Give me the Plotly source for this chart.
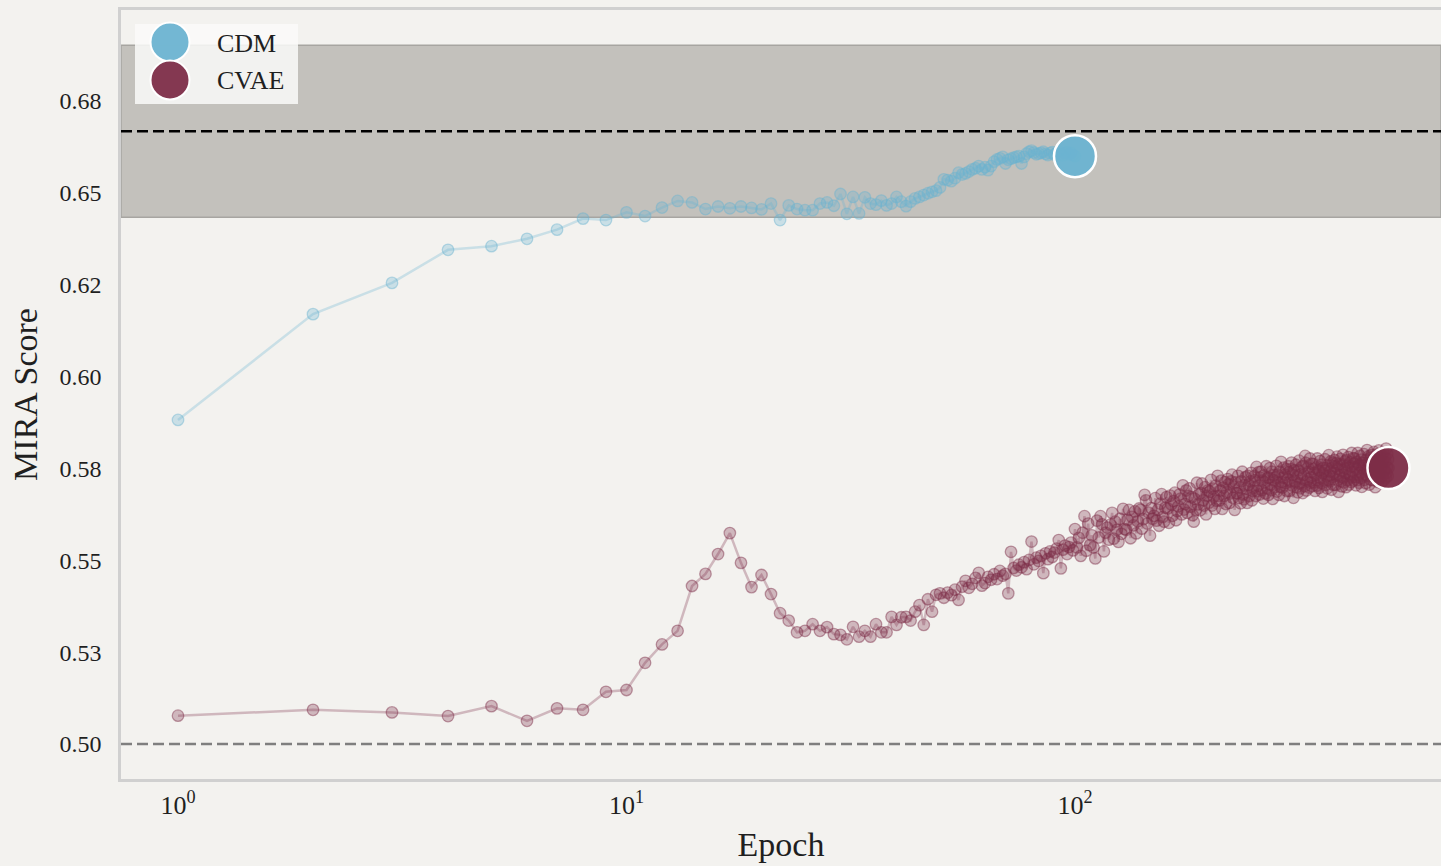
import plotly.graph_objects as go

# ---- data -------------------------------------------------------------
cdm_scores = [
    0.5882, 0.6170, 0.6255, 0.6345, 0.6355, 0.6375, 0.6400, 0.6430, 0.6426, 0.6447,
    0.6437, 0.6460, 0.6478, 0.6474, 0.6456, 0.6463, 0.6458, 0.6463, 0.6459, 0.6455,
    0.6471, 0.6426, 0.6466, 0.6456, 0.6453, 0.6453, 0.6471, 0.6474, 0.6465, 0.6497,
    0.6443, 0.6489, 0.6444, 0.6488, 0.6471, 0.6468, 0.6479, 0.6466, 0.6471, 0.6489,
    0.6476, 0.6464, 0.6476, 0.6485, 0.6489, 0.6494, 0.6499, 0.6503, 0.6506, 0.6515,
    0.6537, 0.6535, 0.6532, 0.6540, 0.6555, 0.6550, 0.6553, 0.6558, 0.6564, 0.6567,
    0.6573, 0.6564, 0.6570, 0.6562, 0.6573, 0.6585, 0.6591, 0.6594, 0.6598, 0.6580,
    0.6590, 0.6593, 0.6596, 0.6598, 0.6600, 0.6580, 0.6598, 0.6607, 0.6612, 0.6615,
    0.6610, 0.6605, 0.6607, 0.6609, 0.6612, 0.6606, 0.6603, 0.6608, 0.6611, 0.6604,
    0.6609, 0.6613, 0.6606, 0.6602, 0.6608, 0.6611, 0.6605, 0.6609, 0.6603, 0.6600,
]

cvae_scores = [
    # epochs 1-49
    0.5077, 0.5093, 0.5086, 0.5076, 0.5103, 0.5063, 0.5097, 0.5093, 0.5142, 0.5147,
    0.5221, 0.5271, 0.5308, 0.5430, 0.5463, 0.5517, 0.5574, 0.5493, 0.5427, 0.5460,
    0.5408, 0.5356, 0.5336, 0.5304, 0.5308, 0.5326, 0.5308, 0.5318, 0.5299, 0.5297,
    0.5285, 0.5319, 0.5292, 0.5308, 0.5292, 0.5326, 0.5304, 0.5304, 0.5346, 0.5324,
    0.5345, 0.5346, 0.5336, 0.5360, 0.5378, 0.5324, 0.5394, 0.5360, 0.5406,
    # epochs 50-99
    0.5410, 0.5398, 0.5412, 0.5405, 0.5420, 0.5392, 0.5428, 0.5444, 0.5425, 0.5436,
    0.5452, 0.5466, 0.5431, 0.5438, 0.5455, 0.5447, 0.5462, 0.5449, 0.5471, 0.5458,
    0.5463, 0.5410, 0.5523, 0.5479, 0.5472, 0.5488, 0.5481, 0.5495, 0.5476, 0.5501,
    0.5551, 0.5489, 0.5507, 0.5498, 0.5512, 0.5465, 0.5519, 0.5503, 0.5524, 0.5509,
    0.5521, 0.5532, 0.5555, 0.5478, 0.5529, 0.5540, 0.5517, 0.5536, 0.5548, 0.5527,
    # epochs 100-199
    0.5585, 0.5535, 0.5561, 0.5512, 0.5575, 0.5620, 0.5526, 0.5600, 0.5541, 0.5568,
    0.5535, 0.5505, 0.5608, 0.5562, 0.5620, 0.5598, 0.5524, 0.5575, 0.5589, 0.5556,
    0.5597, 0.5629, 0.5559, 0.5605, 0.5583, 0.5550, 0.5613, 0.5572, 0.5640, 0.5585,
    0.5583, 0.5610, 0.5637, 0.5560, 0.5618, 0.5595, 0.5633, 0.5573, 0.5606, 0.5641,
    0.5637, 0.5586, 0.5612, 0.5678, 0.5663, 0.5600, 0.5630, 0.5567, 0.5642, 0.5613,
    0.5621, 0.5669, 0.5608, 0.5637, 0.5594, 0.5654, 0.5680, 0.5618, 0.5605, 0.5643,
    0.5672, 0.5641, 0.5602, 0.5676, 0.5652, 0.5621, 0.5661, 0.5684, 0.5609, 0.5634,
    0.5647, 0.5679, 0.5668, 0.5625, 0.5704, 0.5638, 0.5653, 0.5690, 0.5629, 0.5675,
    0.5696, 0.5646, 0.5672, 0.5623, 0.5605, 0.5667, 0.5637, 0.5711, 0.5652, 0.5679,
    0.5636, 0.5683, 0.5709, 0.5663, 0.5649, 0.5699, 0.5625, 0.5676, 0.5690, 0.5657,
    # epochs 200-299
    0.5687, 0.5719, 0.5649, 0.5695, 0.5673, 0.5640, 0.5703, 0.5662, 0.5730, 0.5675,
    0.5663, 0.5690, 0.5717, 0.5640, 0.5698, 0.5675, 0.5713, 0.5653, 0.5686, 0.5721,
    0.5707, 0.5656, 0.5682, 0.5715, 0.5733, 0.5670, 0.5700, 0.5637, 0.5712, 0.5683,
    0.5682, 0.5730, 0.5669, 0.5698, 0.5655, 0.5715, 0.5741, 0.5679, 0.5666, 0.5704,
    0.5726, 0.5695, 0.5656, 0.5730, 0.5706, 0.5675, 0.5715, 0.5738, 0.5663, 0.5688,
    0.5697, 0.5729, 0.5718, 0.5675, 0.5754, 0.5688, 0.5703, 0.5740, 0.5679, 0.5725,
    0.5741, 0.5691, 0.5717, 0.5668, 0.5731, 0.5712, 0.5682, 0.5756, 0.5697, 0.5724,
    0.5678, 0.5725, 0.5751, 0.5705, 0.5691, 0.5741, 0.5667, 0.5718, 0.5732, 0.5699,
    0.5725, 0.5757, 0.5687, 0.5733, 0.5711, 0.5678, 0.5741, 0.5700, 0.5768, 0.5713,
    0.5698, 0.5725, 0.5752, 0.5675, 0.5733, 0.5710, 0.5748, 0.5688, 0.5721, 0.5756,
    # epochs 300-399
    0.5740, 0.5689, 0.5715, 0.5748, 0.5766, 0.5703, 0.5733, 0.5670, 0.5745, 0.5716,
    0.5712, 0.5760, 0.5699, 0.5728, 0.5685, 0.5745, 0.5771, 0.5709, 0.5696, 0.5734,
    0.5753, 0.5722, 0.5683, 0.5757, 0.5733, 0.5702, 0.5784, 0.5765, 0.5690, 0.5715,
    0.5720, 0.5752, 0.5741, 0.5698, 0.5777, 0.5711, 0.5726, 0.5763, 0.5702, 0.5748,
    0.5762, 0.5712, 0.5738, 0.5689, 0.5752, 0.5733, 0.5703, 0.5777, 0.5718, 0.5745,
    0.5697, 0.5744, 0.5770, 0.5724, 0.5710, 0.5760, 0.5686, 0.5737, 0.5751, 0.5718,
    0.5743, 0.5775, 0.5705, 0.5751, 0.5729, 0.5696, 0.5759, 0.5718, 0.5786, 0.5731,
    0.5715, 0.5742, 0.5769, 0.5692, 0.5750, 0.5727, 0.5765, 0.5705, 0.5738, 0.5773,
    0.5756, 0.5705, 0.5731, 0.5764, 0.5782, 0.5719, 0.5749, 0.5686, 0.5761, 0.5732,
    0.5728, 0.5776, 0.5715, 0.5744, 0.5701, 0.5761, 0.5787, 0.5725, 0.5712, 0.5750,
    # epochs 400-500
    0.5769, 0.5738, 0.5699, 0.5773, 0.5749, 0.5718, 0.5758, 0.5781, 0.5706, 0.5731,
    0.5735, 0.5767, 0.5756, 0.5713, 0.5792, 0.5726, 0.5741, 0.5778, 0.5717, 0.5763,
    0.5777, 0.5727, 0.5753, 0.5704, 0.5767, 0.5748, 0.5718, 0.5792, 0.5733, 0.5760,
    0.5711, 0.5758, 0.5784, 0.5738, 0.5724, 0.5774, 0.5700, 0.5751, 0.5765, 0.5732,
    0.5757, 0.5789, 0.5719, 0.5765, 0.5743, 0.5710, 0.5773, 0.5732, 0.5800, 0.5745,
    0.5729, 0.5756, 0.5783, 0.5706, 0.5764, 0.5741, 0.5779, 0.5719, 0.5752, 0.5787,
    0.5769, 0.5718, 0.5744, 0.5777, 0.5795, 0.5732, 0.5762, 0.5699, 0.5774, 0.5745,
    0.5740, 0.5788, 0.5727, 0.5756, 0.5713, 0.5773, 0.5799, 0.5737, 0.5724, 0.5762,
    0.5781, 0.5750, 0.5711, 0.5785, 0.5761, 0.5730, 0.5770, 0.5793, 0.5718, 0.5743,
    0.5747, 0.5779, 0.5768, 0.5725, 0.5804, 0.5738, 0.5753, 0.5790, 0.5729, 0.5775,
    0.5751,
]

cdm_epochs = list(range(1, len(cdm_scores) + 1))
cvae_epochs = list(range(1, len(cvae_scores) + 1))

reference_score = 0.6668      # dashed reference level
reference_band = 0.0234       # half-width of shaded band
chance_score = 0.50

y_tick_vals = [0.500, 0.525, 0.550, 0.575, 0.600, 0.625, 0.650, 0.675]
y_tick_text = ["0.50", "0.53", "0.55", "0.58", "0.60", "0.62", "0.65", "0.68"]
x_tick_vals = [1, 10, 100]
x_tick_text = ["10<sup>0</sup>", "10<sup>1</sup>", "10<sup>2</sup>"]

# ---- styling ------------------------------------------------------------
BG = "#f3f2ef"
FONT = "Liberation Serif, Times New Roman, serif"
TEXT = "#1f1f1f"
CDM_RGB = (107, 179, 209)
CVAE_RGB = (125, 45, 72)
DASH = "11px,5px"


def rgba(rgb, a):
    return "rgba(%d,%d,%d,%.2f)" % (rgb[0], rgb[1], rgb[2], a)


fig = go.Figure()

for name, ep, sc, rgb in [("CDM", cdm_epochs, cdm_scores, CDM_RGB),
                          ("CVAE", cvae_epochs, cvae_scores, CVAE_RGB)]:
    fig.add_trace(go.Scatter(
        x=ep, y=sc, mode="lines+markers", name=name, showlegend=False,
        line=dict(color=rgba(rgb, 0.30), width=2.5),
        marker=dict(size=11.5, color=rgba(rgb, 0.30),
                    line=dict(color=rgba(rgb, 0.45), width=1.3)),
        hoverinfo="skip",
    ))

# final-epoch highlight markers
for ep, sc, rgb in [(cdm_epochs, cdm_scores, CDM_RGB),
                    (cvae_epochs, cvae_scores, CVAE_RGB)]:
    fig.add_trace(go.Scatter(
        x=[ep[-1]], y=[sc[-1]], mode="markers", showlegend=False,
        marker=dict(size=42, color=rgba(rgb, 0.95),
                    line=dict(color="white", width=2.5)),
        hoverinfo="skip",
    ))

shapes = [
    # shaded band around reference level
    dict(type="rect", xref="paper", x0=0, x1=1, yref="y",
         y0=reference_score - reference_band, y1=reference_score + reference_band,
         fillcolor="#c3c1bc", line=dict(color="#a7a5a1", width=1.5), layer="below"),
    dict(type="line", xref="paper", x0=0, x1=1, yref="y",
         y0=reference_score, y1=reference_score,
         line=dict(color="black", width=2.5, dash=DASH), layer="below"),
    dict(type="line", xref="paper", x0=0, x1=1, yref="y",
         y0=chance_score, y1=chance_score,
         line=dict(color="#7f7f7f", width=2.5, dash=DASH), layer="below"),
]

# hand-built legend (large circular markers)
plot_l, plot_r, plot_t, plot_b = 121, 1441, 10, 779


def px_x(px):
    return (px - plot_l) / (plot_r - plot_l)


def px_y(py):
    return (plot_b - py) / (plot_b - plot_t)


shapes.append(dict(type="rect", xref="paper", yref="paper",
                   x0=px_x(135), x1=px_x(298), y0=px_y(104), y1=px_y(24),
                   fillcolor="rgba(250,250,249,0.85)", line=dict(width=0), layer="above"))
annotations = []
for label, cy, rgb in [("CDM", 42, CDM_RGB), ("CVAE", 80, CVAE_RGB)]:
    shapes.append(dict(type="circle", xref="paper", yref="paper",
                       xsizemode="pixel", ysizemode="pixel",
                       xanchor=px_x(170), yanchor=px_y(cy),
                       x0=-19.5, x1=19.5, y0=-19.5, y1=19.5,
                       fillcolor=rgba(rgb, 0.95), line=dict(color="white", width=2),
                       layer="above"))
    annotations.append(dict(xref="paper", yref="paper", x=px_x(215), y=px_y(cy + 1),
                            text=label, showarrow=False, xanchor="left", yanchor="middle",
                            font=dict(family=FONT, size=26, color=TEXT)))

fig.update_layout(
    width=1441, height=866,
    margin=dict(l=plot_l, r=0, t=plot_t, b=866 - plot_b),
    paper_bgcolor=BG, plot_bgcolor=BG,
    font=dict(family=FONT, color=TEXT),
    shapes=shapes, annotations=annotations,
    showlegend=False,
)

fig.update_xaxes(
    type="log", range=[-0.1271, 2.8161],
    tickvals=x_tick_vals, ticktext=x_tick_text,
    tickfont=dict(size=26, family=FONT, color=TEXT),
    showgrid=False, zeroline=False,
    showline=True, linecolor="#d0d0d0", linewidth=2.5, mirror=True,
    ticks="", ticklabelstandoff=1,
    title=dict(text="Epoch", font=dict(size=34, family=FONT, color=TEXT), standoff=14),
)
fig.update_yaxes(
    range=[0.49047, 0.69978],
    tickvals=y_tick_vals, ticktext=y_tick_text,
    tickfont=dict(size=24, family=FONT, color=TEXT),
    showgrid=False, zeroline=False,
    showline=True, linecolor="#d0d0d0", linewidth=2.5,
    ticks="", ticklabelstandoff=12,
    title=dict(text="MIRA Score", font=dict(size=34, family=FONT, color=TEXT), standoff=12),
)

fig.write_html("out.html")
